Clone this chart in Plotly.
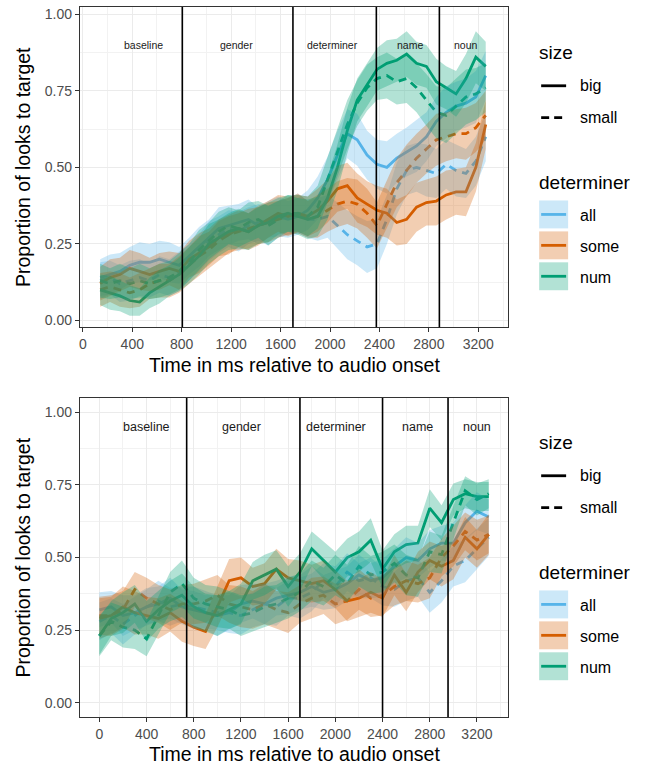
import plotly.graph_objects as go

W, H = 645, 765
FONT = "Liberation Sans, Arial, Helvetica, sans-serif"

# ---------------- data ----------------
determiners = ["all", "some", "num"]
sizes = ["big", "small"]
x_ticks = [0, 400, 800, 1200, 1600, 2000, 2400, 2800, 3200]
y_ticks = [0, 0.25, 0.5, 0.75, 1.0]
y_ticktext = ["0.00", "0.25", "0.50", "0.75", "1.00"]
regions = ["baseline", "gender", "determiner", "name", "noun"]

# ---- top panel (fine time bins) ----
time_top = list(range(140, 3300, 80))
top_all_big = [0.14, 0.15, 0.16, 0.18, 0.19, 0.19, 0.20, 0.19, 0.18, 0.21,
               0.24, 0.27, 0.30, 0.31, 0.32, 0.33, 0.31, 0.33, 0.34, 0.33,
               0.34, 0.36, 0.40, 0.46, 0.54, 0.61, 0.59, 0.54, 0.51, 0.50,
               0.53, 0.55, 0.57, 0.60, 0.65, 0.68, 0.70, 0.71, 0.73, 0.80]
top_all_small = [0.13, 0.14, 0.12, 0.13, 0.14, 0.13, 0.15, 0.14, 0.16, 0.19,
                 0.22, 0.26, 0.28, 0.30, 0.29, 0.31, 0.32, 0.31, 0.33, 0.34,
                 0.35, 0.33, 0.33, 0.34, 0.31, 0.28, 0.26, 0.24, 0.25, 0.33,
                 0.43, 0.49, 0.50, 0.49, 0.48, 0.51, 0.49, 0.48, 0.52, 0.60]
top_some_big = [0.12, 0.14, 0.15, 0.17, 0.16, 0.15, 0.16, 0.17, 0.16, 0.20,
                0.22, 0.24, 0.27, 0.28, 0.30, 0.29, 0.31, 0.33, 0.35, 0.34,
                0.35, 0.34, 0.36, 0.39, 0.43, 0.44, 0.40, 0.38, 0.36, 0.35,
                0.32, 0.33, 0.37, 0.385, 0.39, 0.41, 0.42, 0.42, 0.50, 0.64]
top_some_small = [0.10, 0.11, 0.10, 0.09, 0.10, 0.12, 0.13, 0.13, 0.15, 0.18,
                  0.21, 0.23, 0.26, 0.28, 0.29, 0.30, 0.31, 0.32, 0.33, 0.34,
                  0.35, 0.33, 0.34, 0.36, 0.38, 0.39, 0.38, 0.35, 0.31, 0.38,
                  0.45, 0.49, 0.53, 0.56, 0.59, 0.60, 0.61, 0.61, 0.63, 0.67]
top_num_big = [0.10, 0.09, 0.08, 0.065, 0.06, 0.09, 0.11, 0.13, 0.15, 0.18,
               0.21, 0.25, 0.27, 0.29, 0.30, 0.29, 0.31, 0.32, 0.34, 0.35,
               0.34, 0.33, 0.34, 0.40, 0.50, 0.62, 0.72, 0.77, 0.82, 0.84,
               0.85, 0.87, 0.84, 0.83, 0.78, 0.76, 0.74, 0.79, 0.86, 0.83]
top_num_small = [0.13, 0.12, 0.13, 0.12, 0.13, 0.12, 0.13, 0.14, 0.16, 0.19,
                 0.23, 0.26, 0.29, 0.31, 0.30, 0.32, 0.33, 0.31, 0.33, 0.35,
                 0.35, 0.34, 0.37, 0.46, 0.55, 0.64, 0.71, 0.76, 0.79, 0.80,
                 0.78, 0.79, 0.76, 0.72, 0.68, 0.67, 0.70, 0.73, 0.74, 0.76]
top_all_big_ci = [0.06, 0.065, 0.06, 0.06, 0.065, 0.06, 0.06, 0.065, 0.06, 0.06,
                  0.065, 0.06, 0.07, 0.065, 0.06, 0.065, 0.06, 0.06, 0.065, 0.06,
                  0.06, 0.065, 0.07, 0.075, 0.08, 0.08, 0.085, 0.08, 0.08, 0.085,
                  0.08, 0.08, 0.085, 0.08, 0.08, 0.085, 0.08, 0.08, 0.085, 0.08]
top_all_small_ci = [0.06, 0.055, 0.06, 0.065, 0.06, 0.055, 0.06, 0.06, 0.065, 0.06,
                    0.06, 0.065, 0.06, 0.06, 0.065, 0.06, 0.06, 0.065, 0.06, 0.06,
                    0.065, 0.06, 0.07, 0.07, 0.075, 0.08, 0.08, 0.085, 0.08, 0.08,
                    0.085, 0.08, 0.08, 0.085, 0.08, 0.08, 0.085, 0.08, 0.08, 0.08]
top_some_big_ci = [0.055, 0.06, 0.055, 0.06, 0.06, 0.055, 0.06, 0.055, 0.06, 0.06,
                   0.065, 0.06, 0.06, 0.065, 0.06, 0.06, 0.065, 0.06, 0.06, 0.065,
                   0.06, 0.065, 0.07, 0.07, 0.075, 0.075, 0.08, 0.075, 0.08, 0.08,
                   0.075, 0.08, 0.08, 0.075, 0.08, 0.08, 0.075, 0.08, 0.08, 0.08]
top_some_small_ci = [0.055, 0.05, 0.055, 0.05, 0.055, 0.05, 0.055, 0.055, 0.06, 0.06,
                     0.065, 0.06, 0.065, 0.06, 0.06, 0.065, 0.06, 0.065, 0.06, 0.06,
                     0.065, 0.06, 0.07, 0.07, 0.075, 0.075, 0.08, 0.08, 0.075, 0.08,
                     0.08, 0.085, 0.08, 0.08, 0.085, 0.08, 0.08, 0.085, 0.08, 0.08]
top_num_big_ci = [0.05, 0.055, 0.05, 0.05, 0.045, 0.05, 0.055, 0.05, 0.055, 0.06,
                  0.06, 0.065, 0.06, 0.06, 0.065, 0.06, 0.06, 0.065, 0.06, 0.06,
                  0.06, 0.065, 0.065, 0.07, 0.075, 0.075, 0.07, 0.07, 0.07, 0.075,
                  0.07, 0.075, 0.07, 0.07, 0.075, 0.07, 0.075, 0.08, 0.085, 0.08]
top_num_small_ci = [0.055, 0.05, 0.055, 0.05, 0.055, 0.05, 0.055, 0.055, 0.06, 0.06,
                    0.065, 0.06, 0.065, 0.06, 0.06, 0.065, 0.06, 0.065, 0.06, 0.06,
                    0.06, 0.065, 0.07, 0.075, 0.08, 0.08, 0.075, 0.075, 0.07, 0.075,
                    0.075, 0.08, 0.08, 0.085, 0.085, 0.09, 0.09, 0.09, 0.085, 0.08]
top_events = [805, 1700, 2375, 2885]
top_label_x = [490, 1240, 2020, 2650, 3100]
top_label_y = 0.9

# ---- bottom panel (100 ms bins) ----
time_bot = list(range(0, 3400, 100))
bot_all_big = [0.32, 0.33, 0.30, 0.31, 0.33, 0.34, 0.36, 0.33, 0.32, 0.31,
               0.30, 0.31, 0.34, 0.35, 0.34, 0.36, 0.37, 0.38, 0.40, 0.38,
               0.39, 0.41, 0.44, 0.42, 0.43, 0.47, 0.50, 0.49, 0.53, 0.55,
               0.55, 0.62, 0.66, 0.64]
bot_all_small = [0.28, 0.30, 0.27, 0.30, 0.33, 0.35, 0.33, 0.34, 0.33, 0.32,
                 0.31, 0.31, 0.30, 0.32, 0.34, 0.33, 0.36, 0.36, 0.38, 0.42,
                 0.40, 0.45, 0.42, 0.43, 0.40, 0.39, 0.42, 0.43, 0.38, 0.42,
                 0.47, 0.49, 0.53, 0.57]
bot_some_big = [0.29, 0.30, 0.33, 0.31, 0.30, 0.29, 0.31, 0.28, 0.26, 0.245,
                0.33, 0.42, 0.43, 0.40, 0.41, 0.46, 0.43, 0.42, 0.41, 0.42,
                0.39, 0.35, 0.36, 0.38, 0.36, 0.44, 0.38, 0.45, 0.49, 0.47,
                0.49, 0.57, 0.53, 0.58]
bot_some_small = [0.30, 0.30, 0.32, 0.39, 0.36, 0.34, 0.32, 0.34, 0.34, 0.35,
                  0.37, 0.34, 0.33, 0.32, 0.34, 0.32, 0.31, 0.34, 0.36, 0.37,
                  0.34, 0.35, 0.39, 0.36, 0.37, 0.40, 0.42, 0.41, 0.43, 0.50,
                  0.54, 0.59, 0.56, 0.58]
bot_num_big = [0.23, 0.29, 0.31, 0.34, 0.28, 0.32, 0.35, 0.37, 0.33, 0.31,
               0.30, 0.32, 0.34, 0.42, 0.44, 0.46, 0.40, 0.45, 0.53, 0.49,
               0.45, 0.50, 0.52, 0.56, 0.46, 0.52, 0.545, 0.55, 0.67, 0.62,
               0.70, 0.72, 0.71, 0.71]
bot_num_small = [0.23, 0.28, 0.26, 0.25, 0.22, 0.30, 0.38, 0.41, 0.36, 0.34,
                 0.33, 0.32, 0.30, 0.31, 0.33, 0.34, 0.36, 0.38, 0.42, 0.40,
                 0.44, 0.41, 0.47, 0.44, 0.45, 0.48, 0.44, 0.43, 0.52, 0.51,
                 0.62, 0.73, 0.70, 0.72]
bot_all_big_ci = [0.06, 0.055, 0.07, 0.06, 0.065, 0.06, 0.07, 0.06, 0.065, 0.06,
                  0.07, 0.06, 0.065, 0.06, 0.07, 0.06, 0.065, 0.06, 0.07, 0.06,
                  0.065, 0.06, 0.07, 0.06, 0.065, 0.06, 0.07, 0.06, 0.065, 0.06,
                  0.07, 0.06, 0.065, 0.06]
bot_all_small_ci = [0.065, 0.06, 0.07, 0.065, 0.06, 0.07, 0.065, 0.06, 0.07, 0.065,
                    0.06, 0.07, 0.065, 0.06, 0.07, 0.065, 0.06, 0.07, 0.065, 0.06,
                    0.07, 0.065, 0.06, 0.07, 0.065, 0.06, 0.07, 0.065, 0.07, 0.075,
                    0.07, 0.075, 0.07, 0.065]
bot_some_big_ci = [0.07, 0.065, 0.07, 0.075, 0.065, 0.07, 0.065, 0.07, 0.065, 0.06,
                   0.07, 0.075, 0.07, 0.065, 0.07, 0.07, 0.065, 0.07, 0.065, 0.07,
                   0.065, 0.07, 0.065, 0.07, 0.065, 0.07, 0.065, 0.07, 0.065, 0.07,
                   0.065, 0.07, 0.065, 0.07]
bot_some_small_ci = [0.065, 0.07, 0.065, 0.06, 0.07, 0.065, 0.07, 0.065, 0.07, 0.075,
                     0.07, 0.065, 0.07, 0.065, 0.07, 0.065, 0.07, 0.065, 0.07, 0.065,
                     0.07, 0.065, 0.07, 0.065, 0.07, 0.065, 0.07, 0.065, 0.07, 0.065,
                     0.07, 0.065, 0.07, 0.065]
bot_num_big_ci = [0.065, 0.06, 0.07, 0.065, 0.07, 0.065, 0.07, 0.075, 0.07, 0.065,
                  0.07, 0.065, 0.07, 0.065, 0.07, 0.065, 0.07, 0.065, 0.06, 0.065,
                  0.07, 0.065, 0.07, 0.075, 0.065, 0.06, 0.065, 0.06, 0.065, 0.06,
                  0.055, 0.05, 0.05, 0.05]
bot_num_small_ci = [0.07, 0.065, 0.07, 0.065, 0.06, 0.065, 0.07, 0.08, 0.07, 0.065,
                    0.07, 0.065, 0.07, 0.065, 0.07, 0.065, 0.07, 0.065, 0.07, 0.065,
                    0.07, 0.065, 0.07, 0.065, 0.07, 0.065, 0.07, 0.065, 0.07, 0.065,
                    0.06, 0.05, 0.055, 0.05]
bot_events = [740, 1700, 2400, 2955]
bot_label_x = [400, 1205, 2005, 2695, 3200]
bot_label_y = 0.95

top_data = {
    ("all", "big"): (top_all_big, top_all_big_ci),
    ("all", "small"): (top_all_small, top_all_small_ci),
    ("some", "big"): (top_some_big, top_some_big_ci),
    ("some", "small"): (top_some_small, top_some_small_ci),
    ("num", "big"): (top_num_big, top_num_big_ci),
    ("num", "small"): (top_num_small, top_num_small_ci),
}
bot_data = {
    ("all", "big"): (bot_all_big, bot_all_big_ci),
    ("all", "small"): (bot_all_small, bot_all_small_ci),
    ("some", "big"): (bot_some_big, bot_some_big_ci),
    ("some", "small"): (bot_some_small, bot_some_small_ci),
    ("num", "big"): (bot_num_big, bot_num_big_ci),
    ("num", "small"): (bot_num_small, bot_num_small_ci),
}

# ---------------- styles ----------------
COL = {"all": "#56B4E9", "some": "#D55E00", "num": "#009E73"}
FILL = {"all": "rgba(86,180,233,0.3)", "some": "rgba(213,94,0,0.3)", "num": "rgba(0,158,115,0.3)"}
DASH = {"big": "solid", "small": "8px,6px"}
LW = 2.8

fig = go.Figure()


def add_panel(times, data, xa, ya):
    for det in determiners:
        for sz in sizes:
            m, _ = data[(det, sz)]
            fig.add_trace(go.Scatter(x=times, y=m, mode="lines", xaxis=xa, yaxis=ya,
                                     line=dict(color=COL[det], width=LW, dash=DASH[sz]),
                                     showlegend=False, hoverinfo="skip"))
    for det in determiners:
        for sz in sizes:
            m, ci = data[(det, sz)]
            up = [a + b for a, b in zip(m, ci)]
            lo = [a - b for a, b in zip(m, ci)]
            fig.add_trace(go.Scatter(x=times + times[::-1], y=up + lo[::-1], mode="lines",
                                     fill="toself", fillcolor=FILL[det], line=dict(width=0),
                                     xaxis=xa, yaxis=ya, showlegend=False, hoverinfo="skip"))


add_panel(time_top, top_data, "x", "y")
add_panel(time_bot, bot_data, "x2", "y2")


def px_x(p):
    return p / W


def px_y(p):
    return 1 - p / H


XD = [px_x(79), px_x(508)]
axis_common = dict(showline=True, mirror=True, linecolor="#333333", linewidth=1.1,
                   ticks="outside", ticklen=4, tickcolor="#333333", tickwidth=1.1,
                   tickfont=dict(family=FONT, size=14, color="#4D4D4D"),
                   showgrid=True, gridcolor="#EBEBEB", gridwidth=1.1, zeroline=False)
x_minor = dict(tickmode="array", tickvals=[200, 600, 1000, 1400, 1800, 2200, 2600, 3000, 3400],
               showgrid=True, gridcolor="#F2F2F2", gridwidth=0.6, ticks="")
y_minor = dict(tickmode="array", tickvals=[0.125, 0.375, 0.625, 0.875],
               showgrid=True, gridcolor="#F2F2F2", gridwidth=0.6, ticks="")

fig.update_layout(
    width=W, height=H, margin=dict(l=0, r=0, t=0, b=0),
    paper_bgcolor="white", plot_bgcolor="white", showlegend=False,
    font=dict(family=FONT, color="black"),
    xaxis=dict(domain=XD, range=[-24, 3442], anchor="y", tickmode="array",
               tickvals=x_ticks, ticktext=[str(v) for v in x_ticks], minor=x_minor, **axis_common),
    yaxis=dict(domain=[px_y(327), px_y(6)], range=[-0.022, 1.024], anchor="x", tickmode="array",
               tickvals=y_ticks, ticktext=y_ticktext, minor=y_minor, **axis_common),
    xaxis2=dict(domain=XD, range=[-165, 3465], anchor="y2", tickmode="array",
                tickvals=x_ticks, ticktext=[str(v) for v in x_ticks], minor=x_minor, **axis_common),
    yaxis2=dict(domain=[px_y(718), px_y(398)], range=[-0.05, 1.05], anchor="x2", tickmode="array",
                tickvals=y_ticks, ticktext=y_ticktext, minor=y_minor, **axis_common),
)

shapes = []
ann = []
for ev in top_events:
    shapes.append(dict(type="line", xref="x", yref="y domain", x0=ev, x1=ev, y0=0, y1=1,
                       line=dict(color="black", width=1.6)))
for ev in bot_events:
    shapes.append(dict(type="line", xref="x2", yref="y2 domain", x0=ev, x1=ev, y0=0, y1=1,
                       line=dict(color="black", width=1.6)))
for lab, xv in zip(regions, top_label_x):
    ann.append(dict(x=xv, y=top_label_y, xref="x", yref="y", text=lab, showarrow=False,
                    font=dict(family=FONT, size=10.5, color="#1A1A1A")))
for lab, xv in zip(regions, bot_label_x):
    ann.append(dict(x=xv, y=bot_label_y, xref="x2", yref="y2", text=lab, showarrow=False,
                    font=dict(family=FONT, size=12.5, color="#1A1A1A")))

# axis titles
for yc, xc_title in [(166.5, 364.5), (558, 755)]:
    ann.append(dict(x=px_x(22), y=px_y(yc), xref="paper", yref="paper", text="Proportion of looks to target",
                    textangle=-90, showarrow=False, xanchor="center", yanchor="middle",
                    font=dict(family=FONT, size=19.5, color="black")))
    ann.append(dict(x=px_x(293.5), y=px_y(xc_title), xref="paper", yref="paper",
                    text="Time in ms relative to audio onset", showarrow=False,
                    xanchor="center", yanchor="middle", font=dict(family=FONT, size=19.5, color="black")))

# manual legends
for off in [0, 391]:
    ann.append(dict(x=px_x(537), y=px_y(52 + off), xref="paper", yref="paper", text="size",
                    showarrow=False, xanchor="left", yanchor="middle",
                    font=dict(family=FONT, size=19, color="black")))
    for i, sz in enumerate(sizes):
        yy = 85 + off + i * 32
        shapes.append(dict(type="line", xref="paper", yref="paper", x0=px_x(541), x1=px_x(566),
                           y0=px_y(yy), y1=px_y(yy),
                           line=dict(color="black", width=LW, dash="solid" if sz == "big" else "8px,5px")))
        ann.append(dict(x=px_x(578), y=px_y(yy), xref="paper", yref="paper", text=sz, showarrow=False,
                        xanchor="left", yanchor="middle", font=dict(family=FONT, size=16, color="black")))
    ann.append(dict(x=px_x(537), y=px_y(182 + off), xref="paper", yref="paper", text="determiner",
                    showarrow=False, xanchor="left", yanchor="middle",
                    font=dict(family=FONT, size=19, color="black")))
    for i, det in enumerate(determiners):
        top = 200 + off + i * 31
        shapes.append(dict(type="rect", xref="paper", yref="paper", x0=px_x(539), x1=px_x(568),
                           y0=px_y(top + 28), y1=px_y(top), fillcolor=FILL[det], line=dict(width=0)))
        shapes.append(dict(type="line", xref="paper", yref="paper", x0=px_x(541), x1=px_x(566),
                           y0=px_y(top + 14), y1=px_y(top + 14), line=dict(color=COL[det], width=LW)))
        ann.append(dict(x=px_x(578), y=px_y(top + 15), xref="paper", yref="paper", text=det, showarrow=False,
                        xanchor="left", yanchor="middle", font=dict(family=FONT, size=16, color="black")))

fig.update_layout(shapes=shapes, annotations=ann)
fig.write_html("out.html", config={"displayModeBar": False},
               post_script="document.body.style.margin='0';document.body.style.padding='0';"
                           "document.body.style.overflow='hidden';")
